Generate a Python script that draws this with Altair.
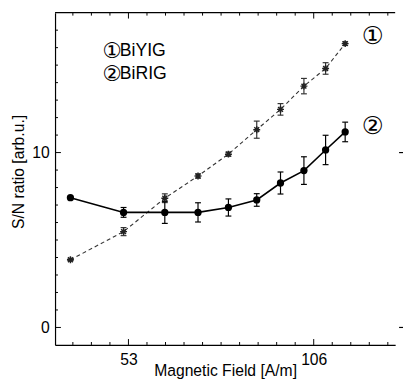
import altair as alt
import pandas as pd

# ---- data ----
field = [36.4, 51.6, 63.4, 72.9, 81.6, 89.7, 96.5, 103.2, 109.4, 115.0]
biyig = [3.87, 5.48, 7.39, 8.66, 9.91, 11.31, 12.47, 13.80, 14.81, 16.23]
biyig_err = [0.05, 0.23, 0.25, 0.12, 0.12, 0.49, 0.33, 0.44, 0.33, 0.10]
birig = [7.42, 6.58, 6.58, 6.58, 6.86, 7.29, 8.26, 8.97, 10.15, 11.18]
birig_err = [0.0, 0.28, 0.63, 0.55, 0.49, 0.36, 0.63, 0.79, 0.84, 0.56]
x_labels = [53, 106]
y_labels = [0, 10]
legend_digits = ["①", "②"]
legend_names = ["BiYIG", "BiRIG"]
series_marks = ["①", "②"]

W, H = 347, 339
FONT = "Liberation Sans"
CIRC = "DejaVu Sans"

yig = pd.DataFrame({"field": field, "value": biyig,
                    "lo": [v - e for v, e in zip(biyig, biyig_err)],
                    "hi": [v + e for v, e in zip(biyig, biyig_err)]})
rig = pd.DataFrame({"field": field, "value": birig,
                    "lo": [v - e for v, e in zip(birig, birig_err)],
                    "hi": [v + e for v, e in zip(birig, birig_err)]})

xs = alt.Scale(domain=[32.0, 129.3], nice=False, zero=False)
ys = alt.Scale(domain=[-1.0, 18.0], nice=False, zero=False)

x_axis = alt.Axis(values=x_labels, ticks=False, grid=False, domainColor="black",
                  domainWidth=1.2, labelFontSize=16, labelPadding=7, labelColor="black",
                  labelFont=FONT, title="Magnetic Field [A/m]", titleFont=FONT,
                  titleFontSize=16, titleFontWeight="normal", titleColor="black",
                  titleX=W / 2, titleY=31, titleBaseline="alphabetic")
y_axis = alt.Axis(values=y_labels, ticks=False, grid=False, domainColor="black",
                  domainWidth=1.2, labelFontSize=16, labelPadding=6, labelColor="black",
                  labelFont=FONT, title="S/N ratio [arb.u.]", titleFont=FONT,
                  titleFontSize=16, titleFontWeight="normal", titleColor="black",
                  titleX=-32, titleY=162, titleBaseline="alphabetic", titleAlign="center")

def X(f):
    return alt.X(f, scale=xs, axis=x_axis)

def Y(f):
    return alt.Y(f, scale=ys, axis=y_axis)

line_yig = alt.Chart(yig).mark_line(color="#333", strokeWidth=1.1, strokeDash=[4, 3]).encode(
    x=X("field:Q"), y=Y("value:Q"))
line_rig = alt.Chart(rig).mark_line(color="black", strokeWidth=1.6).encode(
    x=X("field:Q"), y=Y("value:Q"))

def errbars(df, color):
    bar = alt.Chart(df).mark_rule(color=color, strokeWidth=1.2).encode(
        x=X("field:Q"), y=Y("lo:Q"), y2="hi:Q")
    cap_lo = alt.Chart(df).mark_rule(color=color, strokeWidth=1.2, xOffset=-3, x2Offset=3).encode(
        x=X("field:Q"), x2="field:Q", y=Y("lo:Q"))
    cap_hi = alt.Chart(df).mark_rule(color=color, strokeWidth=1.2, xOffset=-3, x2Offset=3).encode(
        x=X("field:Q"), x2="field:Q", y=Y("hi:Q"))
    return [bar, cap_lo, cap_hi]

asterisk = "M-1,0L1,0M0,-1L0,1M-0.7,-0.7L0.7,0.7M-0.7,0.7L0.7,-0.7"
pts_yig = alt.Chart(yig).mark_point(shape=asterisk, size=50, filled=False, color="#222",
                                    strokeWidth=1.5, opacity=1).encode(x=X("field:Q"), y=Y("value:Q"))
pts_rig = alt.Chart(rig).mark_point(shape="circle", size=55, filled=True, color="black",
                                    opacity=1).encode(x=X("field:Q"), y=Y("value:Q"))

# ---- inward ticks ----
x_minor = [round(53 + 5.3 * k, 2) for k in range(-3, 15) if k not in (0, 10)]
y_minor = [v for v in range(0, 18) if v not in y_labels]

def xticks(vals, length, top):
    d = pd.DataFrame({"field": vals})
    if top:
        enc = dict(y=alt.value(0), y2=alt.value(length))
    else:
        enc = dict(y=alt.value(H), y2=alt.value(H - length))
    return alt.Chart(d).mark_rule(color="black", strokeWidth=1).encode(x=X("field:Q"), **enc)

def yticks(vals, length):
    d = pd.DataFrame({"value": vals})
    return alt.Chart(d).mark_rule(color="black", strokeWidth=1).encode(
        y=Y("value:Q"), x=alt.value(0), x2=alt.value(length))

right_ticks = alt.Chart(pd.DataFrame({"value": y_labels})).mark_rule(
    color="black", strokeWidth=1.2).encode(y=Y("value:Q"), x=alt.value(W + 4), x2=alt.value(W + 8))

top_border = alt.Chart(pd.DataFrame({"a": [0]})).mark_rule(color="black", strokeWidth=1.2).encode(
    x=alt.value(0), x2=alt.value(W), y=alt.value(0))

texts = []
for i in range(2):
    texts.append(alt.Chart(pd.DataFrame({"t": [legend_digits[i]]})).mark_text(
        align="center", baseline="middle", fontSize=22, font=CIRC, color="black").encode(
        text="t:N", x=alt.value(58), y=alt.value(39 + 24 * i)))
    texts.append(alt.Chart(pd.DataFrame({"t": [legend_names[i]]})).mark_text(
        align="left", baseline="middle", fontSize=18, font=FONT, color="black").encode(
        text="t:N", x=alt.value(66), y=alt.value(39 + 24 * i)))
for i, t in enumerate(series_marks):
    texts.append(alt.Chart(pd.DataFrame({"t": [t]})).mark_text(
        align="center", baseline="middle", fontSize=25, font=CIRC, color="black").encode(
        text="t:N", x=alt.value(324), y=alt.value(24 + 92 * i)))

layers = [line_yig, line_rig] + errbars(yig, "#333") + errbars(rig, "black") + [
    pts_yig, pts_rig,
    xticks(x_minor, 3, False), xticks(x_labels, 6, False),
    xticks(x_minor, 3, True), xticks(x_labels, 6, True),
    yticks(y_minor, 3), yticks(y_labels, 6),
    right_ticks, top_border] + texts

chart = alt.layer(*layers).properties(
    width=W, height=H,
    padding={"left": 48, "top": 1, "right": 8, "bottom": 32},
    autosize=alt.AutoSizeParams(type="none"),
    background="white",
).configure_view(stroke=None)

chart.save("out.html", embed_options={"renderer": "svg", "actions": False})
